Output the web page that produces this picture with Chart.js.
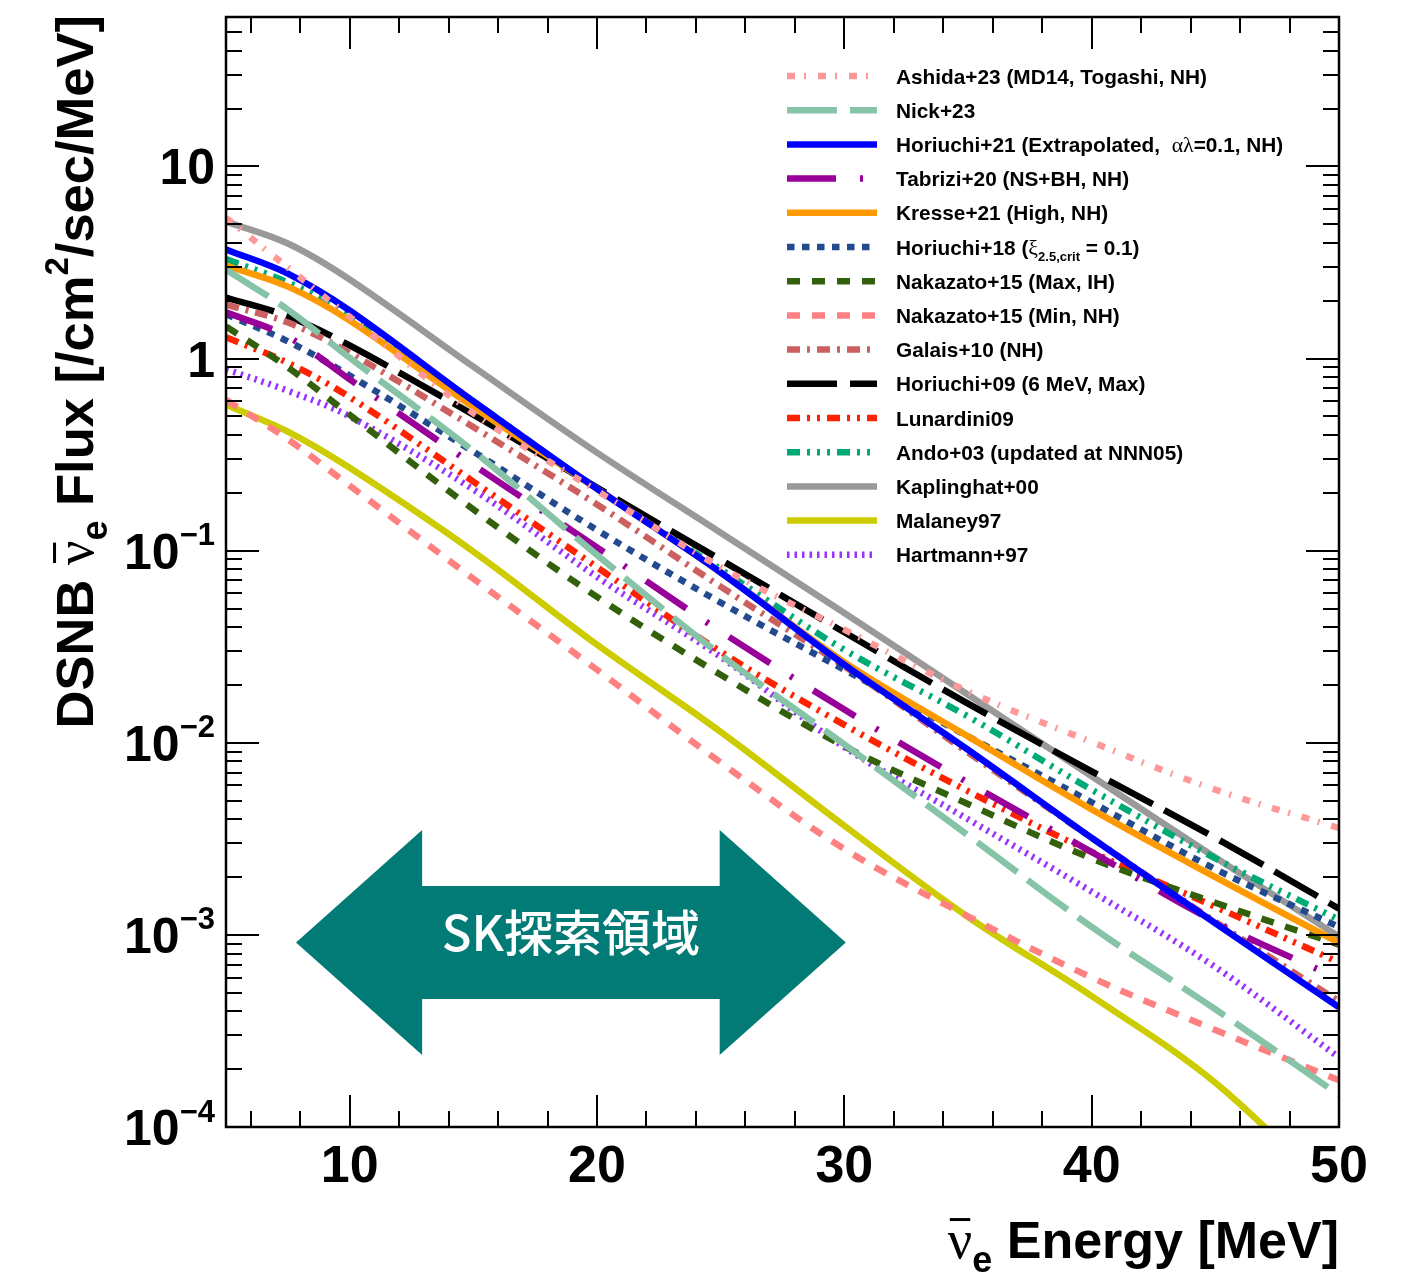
<!DOCTYPE html>
<html>
<head>
<meta charset="utf-8">
<script src="https://cdn.jsdelivr.net/npm/chart.js@4/dist/chart.umd.min.js"></script>
<style>
  html, body { margin: 0; padding: 0; background: #ffffff; }
  canvas { display: block; }
</style>
</head>
<body>
<canvas id="dsnb" width="1408" height="1276"></canvas>
<script>
// Neutrino energy grid [MeV]
const energy = [5, 7.5, 10, 15, 20, 25, 30, 35, 40, 45, 50];

// DSNB anti-electron-neutrino flux predictions [/cm^2/sec/MeV]
const ashida23     = [5.4, 2.98, 1.65, 0.52, 0.205, 0.082, 0.0388, 0.0185, 0.0101, 0.0057, 0.0036];
const nick23       = [2.9, 1.8, 1.01, 0.33, 0.095, 0.0287, 0.0098, 0.0033, 0.0011, 0.00041, 0.000147];
const horiuchi21   = [3.7, 2.77, 1.78, 0.6, 0.21, 0.077, 0.0255, 0.0092, 0.0032, 0.00115, 0.00042];
const tabrizi20    = [1.74, 1.3, 0.78, 0.28, 0.104, 0.038, 0.0149, 0.0062, 0.0027, 0.00117, 0.00059];
const kresse21     = [3.05, 2.37, 1.58, 0.56, 0.21, 0.077, 0.0263, 0.0108, 0.0045, 0.002, 0.00091];
const horiuchi18   = [1.7, 1.23, 0.816, 0.328, 0.128, 0.0537, 0.024, 0.0108, 0.0049, 0.0022, 0.0011];
const nakazatoMax  = [1.47, 0.9, 0.51, 0.164, 0.0575, 0.0226, 0.0096, 0.0048, 0.0025, 0.00147, 0.00089];
const nakazatoMin  = [0.61, 0.38, 0.218, 0.0715, 0.024, 0.0079, 0.0028, 0.00125, 0.0006, 0.00032, 0.000175];
const galais10     = [1.91, 1.54, 1.07, 0.44, 0.174, 0.065, 0.025, 0.0089, 0.0032, 0.00117, 0.00045];
const horiuchi09   = [2.08, 1.66, 1.17, 0.51, 0.213, 0.0897, 0.0376, 0.016, 0.0071, 0.0032, 0.00137];
const lunardini09  = [1.29, 0.95, 0.63, 0.229, 0.082, 0.0298, 0.0124, 0.0056, 0.0027, 0.0014, 0.00072];
const ando03       = [3.3, 2.49, 1.7, 0.6, 0.21, 0.08, 0.0305, 0.0137, 0.0057, 0.0025, 0.0012];
const kaplinghat00 = [5.17, 3.97, 2.58, 0.908, 0.324, 0.124, 0.0474, 0.0178, 0.0067, 0.00253, 0.00098];
const malaney97    = [0.575, 0.417, 0.27, 0.099, 0.0324, 0.0114, 0.0037, 0.00124, 0.00048, 0.00017, 0.000042];
const hartmann97   = [0.88, 0.68, 0.5, 0.208, 0.073, 0.028, 0.0095, 0.004, 0.00168, 0.00068, 0.00023];

// Legend names ($..$ = Greek/symbol font, _{..} = subscript)
const seriesNames = [
  'Ashida+23 (MD14, Togashi, NH)',
  'Nick+23',
  'Horiuchi+21 (Extrapolated,  $αλ$=0.1, NH)',
  'Tabrizi+20 (NS+BH, NH)',
  'Kresse+21 (High, NH)',
  'Horiuchi+18 ($ξ$_{2.5,crit} = 0.1)',
  'Nakazato+15 (Max, IH)',
  'Nakazato+15 (Min, NH)',
  'Galais+10 (NH)',
  'Horiuchi+09 (6 MeV, Max)',
  'Lunardini09',
  'Ando+03 (updated at NNN05)',
  'Kaplinghat+00',
  'Malaney97',
  'Hartmann+97'
];
const seriesValues = [ashida23, nick23, horiuchi21, tabrizi20, kresse21, horiuchi18,
  nakazatoMax, nakazatoMin, galais10, horiuchi09, lunardini09, ando03,
  kaplinghat00, malaney97, hartmann97];

// Axis tick labels
const xTickValues = [10, 20, 30, 40, 50];
const xTickLabels = ['10', '20', '30', '40', '50'];
const yTickValues = [1e-4, 1e-3, 1e-2, 1e-1, 1, 10];
const yTickLabels = ['10^{−4}', '10^{−3}', '10^{−2}', '10^{−1}', '1', '10'];

// Line styles per series
const lineStyles = [
  { color: '#ff9999', dash: [8, 9, 2, 12] },
  { color: '#86c3a7', dash: [50, 13] },
  { color: '#0000ff', dash: [] },
  { color: '#990099', dash: [49, 24, 3, 24] },
  { color: '#ff9900', dash: [] },
  { color: '#234a8e', dash: [7.5, 7.5] },
  { color: '#33600a', dash: [13, 12] },
  { color: '#ff8080', dash: [13, 12] },
  { color: '#cc6060', dash: [13, 7, 3, 7] },
  { color: '#000000', dash: [50, 13] },
  { color: '#ff2200', dash: [13, 7, 3, 7, 3, 7] },
  { color: '#00aa77', dash: [13, 7, 3, 7, 3, 7, 3, 7] },
  { color: '#999999', dash: [] },
  { color: '#cccc00', dash: [] },
  { color: '#9933ff', dash: [2.5, 5] }
];
const LINE_W = 6.5;

const SANS = '"Liberation Sans", Arial, Helvetica, sans-serif';
const SERIF = '"Liberation Serif", "DejaVu Serif", serif';

// ---- small rich-text helper (symbols, sub- and superscripts) ----
function parseRich(str, size, weight) {
  const parts = [];
  const re = /\$([^$]+)\$|_\{([^}]+)\}|\^\{([^}]+)\}|([^$_^]+)/g;
  let m;
  while ((m = re.exec(str)) !== null) {
    if (m[1]) parts.push({ text: m[1], font: `normal ${size * 1.05}px ${SERIF}`, dy: 0 });
    else if (m[2]) parts.push({ text: m[2], font: `${weight} ${Math.round(size * 0.62)}px ${SANS}`, dy: size * 0.32 });
    else if (m[3]) parts.push({ text: m[3], font: `${weight} ${Math.round(size * 0.62)}px ${SANS}`, dy: -size * 0.47 });
    else parts.push({ text: m[4], font: `${weight} ${size}px ${SANS}`, dy: 0 });
  }
  return parts;
}
function richWidth(ctx, parts) {
  let w = 0;
  for (const p of parts) { ctx.font = p.font; w += ctx.measureText(p.text).width + (p.gap || 0); }
  return w;
}
function drawRich(ctx, parts, x, y) {
  ctx.textAlign = 'left';
  ctx.textBaseline = 'alphabetic';
  let cx = x;
  for (const p of parts) {
    ctx.font = p.font;
    const w = ctx.measureText(p.text).width;
    ctx.fillText(p.text, cx, y + p.dy);
    if (p.bar) ctx.fillRect(cx + p.barInset, y + p.dy - p.barY, w - 2 * p.barInset, 3);
    cx += w + (p.gap || 0);
  }
  return cx - x;
}
function nuBar(size) {
  return [
    { text: 'ν', font: `normal ${size}px ${SERIF}`, dy: 0, bar: true, barY: size * 0.74, barInset: 2 },
    { text: 'e', font: `bold ${Math.round(size * 0.66)}px ${SANS}`, dy: size * 0.25 }
  ];
}

// ---- SK search window annotation ----
const skWindow = { from: 7.83, to: 30.06, head: 5.1, centre: Math.pow(10, -3.04), label: 'SK探索領域' };

const decor = {
  id: 'decor',
  beforeDatasetsDraw(chart) {
    const { ctx, scales: { x, y } } = chart;
    const xl = x.getPixelForValue(skWindow.from);
    const xr = x.getPixelForValue(skWindow.to);
    const hl = x.getPixelForValue(skWindow.from + skWindow.head);
    const hr = x.getPixelForValue(skWindow.to - skWindow.head);
    const yc = y.getPixelForValue(skWindow.centre);
    const H = 112.5, S = 56.5;
    ctx.save();
    ctx.fillStyle = '#027b76';
    ctx.beginPath();
    ctx.moveTo(xl, yc);
    ctx.lineTo(hl, yc - H);
    ctx.lineTo(hl, yc - S);
    ctx.lineTo(hr, yc - S);
    ctx.lineTo(hr, yc - H);
    ctx.lineTo(xr, yc);
    ctx.lineTo(hr, yc + H);
    ctx.lineTo(hr, yc + S);
    ctx.lineTo(hl, yc + S);
    ctx.lineTo(hl, yc + H);
    ctx.closePath();
    ctx.fill();
    ctx.fillStyle = '#ffffff';
    ctx.font = `500 49px "Noto Sans CJK JP", "Noto Sans", sans-serif`;
    ctx.textAlign = 'center';
    ctx.textBaseline = 'middle';
    ctx.fillText(skWindow.label, (xl + xr) / 2, yc - 10);
    ctx.restore();
  },
  afterDatasetsDraw(chart) {
    const { ctx, chartArea: a, scales: { x, y } } = chart;
    ctx.save();
    ctx.fillStyle = '#000';
    ctx.strokeStyle = '#000';

    // ticks on all four sides, pointing inwards
    ctx.lineWidth = 2;
    ctx.beginPath();
    for (let e = 6; e < 50; e += 2) {
      const px = Math.round(x.getPixelForValue(e));
      const len = (e % 10 === 0) ? 32 : 16;
      ctx.moveTo(px, a.bottom); ctx.lineTo(px, a.bottom - len);
      ctx.moveTo(px, a.top); ctx.lineTo(px, a.top + len);
    }
    for (let d = -4; d <= 1; d++) {
      for (let m = 1; m <= 9; m++) {
        const v = m * Math.pow(10, d);
        if (v > y.max || (d === -4 && m === 1)) continue;
        const py = Math.round(y.getPixelForValue(v));
        const len = m === 1 ? 33 : 16;
        ctx.moveTo(a.left, py); ctx.lineTo(a.left + len, py);
        ctx.moveTo(a.right, py); ctx.lineTo(a.right - len, py);
      }
    }
    ctx.stroke();

    // frame
    ctx.lineWidth = 2.5;
    ctx.strokeRect(a.left, a.top, a.right - a.left, a.bottom - a.top);

    // x tick labels
    xTickValues.forEach((v, i) => {
      const parts = parseRich(xTickLabels[i], 52, 'bold');
      const w = richWidth(ctx, parts);
      drawRich(ctx, parts, x.getPixelForValue(v) - w / 2, a.bottom + 55);
    });
    // y tick labels
    yTickValues.forEach((v, i) => {
      const parts = parseRich(yTickLabels[i], 50, 'bold');
      const w = richWidth(ctx, parts);
      drawRich(ctx, parts, 215 - w, y.getPixelForValue(v) + 18);
    });

    // x axis title
    const xt = nuBar(54).concat(parseRich(' Energy [MeV]', 52, 'bold'));
    const xw = richWidth(ctx, xt);
    drawRich(ctx, xt, a.right - xw, 1258);

    // y axis title (rotated, right-aligned to the top of the frame)
    const yt = parseRich('DSNB ', 52.5, 'bold')
      .concat(nuBar(54))
      .concat(parseRich(' Flux [/cm^{2}/sec/MeV]', 52.5, 'bold'));
    const yw = richWidth(ctx, yt);
    ctx.save();
    ctx.translate(93, a.top - 2 + yw);
    ctx.rotate(-Math.PI / 2);
    drawRich(ctx, yt, 0, 0);
    ctx.restore();

    // legend
    chart.data.datasets.forEach((ds, i) => {
      const ly = 76 + i * 34.2;
      ctx.save();
      ctx.strokeStyle = ds.borderColor;
      ctx.lineWidth = LINE_W;
      ctx.lineCap = 'butt';
      ctx.setLineDash(ds.borderDash || []);
      ctx.beginPath();
      ctx.moveTo(787, ly); ctx.lineTo(877, ly);
      ctx.stroke();
      ctx.restore();
      ctx.fillStyle = '#000';
      drawRich(ctx, parseRich(seriesNames[i], 20.8, 'bold'), 896, ly + 7.5);
    });
    ctx.restore();
  }
};

const datasets = seriesValues.map((vals, i) => ({
  label: seriesNames[i],
  data: energy.map((e, j) => ({ x: e, y: vals[j] })),
  borderColor: lineStyles[i].color,
  borderDash: lineStyles[i].dash,
  borderWidth: LINE_W,
  borderCapStyle: 'butt',
  borderJoinStyle: 'round',
  pointRadius: 0,
  fill: false,
  tension: 0.35,
  clip: 0
}));

new Chart(document.getElementById('dsnb'), {
  type: 'line',
  data: { datasets },
  options: {
    responsive: false,
    animation: false,
    devicePixelRatio: 1,
    events: [],
    layout: { padding: { left: 226, right: 69, top: 17, bottom: 149 } },
    scales: {
      x: { type: 'linear', min: 5, max: 50, display: false },
      y: { type: 'logarithmic', min: 1e-4, max: 60, display: false }
    },
    plugins: { legend: { display: false }, tooltip: { enabled: false } }
  },
  plugins: [decor]
});
</script>
</body>
</html>
